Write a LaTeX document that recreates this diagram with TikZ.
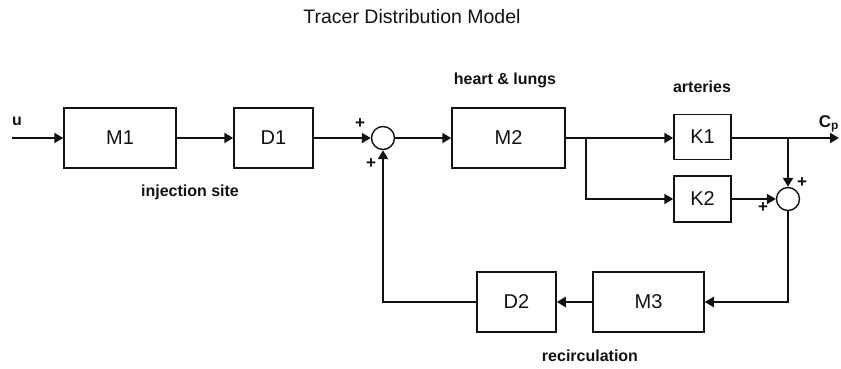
\documentclass[tikz,border=0pt]{standalone}
\usepackage{fontspec}
\setmainfont{Liberation Sans}
\usepackage{xcolor}
\definecolor{tdink}{HTML}{111111}
\usepackage{tikz}
\usetikzlibrary{arrows.meta,positioning}
\tikzset{
  >={Triangle[length=9pt,width=10pt]},
  every picture/.style={line join=miter},
  blk/.style={draw=tdink, line width=1.5pt, inner sep=0pt,
    font=\fontsize{20}{23}\selectfont, text=tdink},
  sumj/.style={draw=tdink, circle, line width=1.4pt, minimum size=23pt, inner sep=0pt},
  sig/.style={tdink, line width=2.1pt, ->},
  lbl/.style={font=\bfseries\fontsize{16}{19}\selectfont, text=tdink},
  pm/.style={font=\bfseries\fontsize{17}{19}\selectfont, text=tdink, inner sep=0pt},
  ttl/.style={font=\fontsize{19.5}{23}\selectfont, text=tdink},
}
\begin{document}
\begin{tikzpicture}[x=1pt, y=-1pt]
\useasboundingbox (0,0) rectangle (841,368);
% blocks of the forward path
\node[blk, minimum width=112pt, minimum height=60pt] (M1) at (120,138) {M1};
\node[blk, minimum width=79pt, minimum height=60pt] (D1) at (273.5,138) {D1};
\node[sumj] (s1) at (383,138) {};
\node[blk, minimum width=113pt, minimum height=60pt] (M2) at (508.5,138) {M2};
\node[blk, minimum width=57pt, minimum height=45pt] (K1) at (702.5,137) {K1};
\node[blk, minimum width=57pt, minimum height=46pt] (K2) at (702.5,199) {K2};
\node[sumj] (s2) at (788,199) {};
% recirculation blocks
\node[blk, minimum width=111pt, minimum height=60pt] (M3) at (648.5,302) {M3};
\node[blk, minimum width=79pt, minimum height=60pt] (D2) at (516.5,302) {D2};
% free ends and branch points
\coordinate (in) at (12,138);
\coordinate (out) at (839,138);
\coordinate (br) at (586,138);
\coordinate (tp) at (788,138);
% signals
\draw[sig] (in) -- (M1);
\draw[sig] (M1) -- (D1);
\draw[sig] (D1) -- (s1);
\draw[sig] (s1) -- (M2);
\draw[sig] (M2.east |- br) -- (K1.west |- br);
\draw[sig] (br) |- (K2.west);
\draw[sig] (K1.east |- br) -- (out);
\draw[sig] (tp) -- (s2.north);
\draw[sig] (K2) -- (s2);
\draw[sig] (s2.south) |- (M3.east);
\draw[sig] (M3) -- (D2);
\draw[sig] (D2.west) -| (s1.south);
% signs
\node[pm] (p1) at (360,124) {+};
\node[pm] (p2) at (371,164) {+};
\node[pm] (p3) at (802,183) {+};
\node[pm] (p4) at (763,208) {+};
% texts
\node[ttl] (title) at (412,17) {Tracer Distribution Model};
\node[lbl] (u) at (17,121) {u};
\node[lbl, anchor=base east, inner sep=1pt, font=\bfseries\fontsize{17}{20}\selectfont] (cp) at (840,127) {C\textsubscript{p}};
\node[lbl] (hl) at (505,80) {heart \& lungs};
\node[lbl] (art) at (702,87) {arteries};
\node[lbl] (inj) at (190,192) {injection site};
\node[lbl] (rec) at (590,356) {recirculation};
\end{tikzpicture}
\end{document}
